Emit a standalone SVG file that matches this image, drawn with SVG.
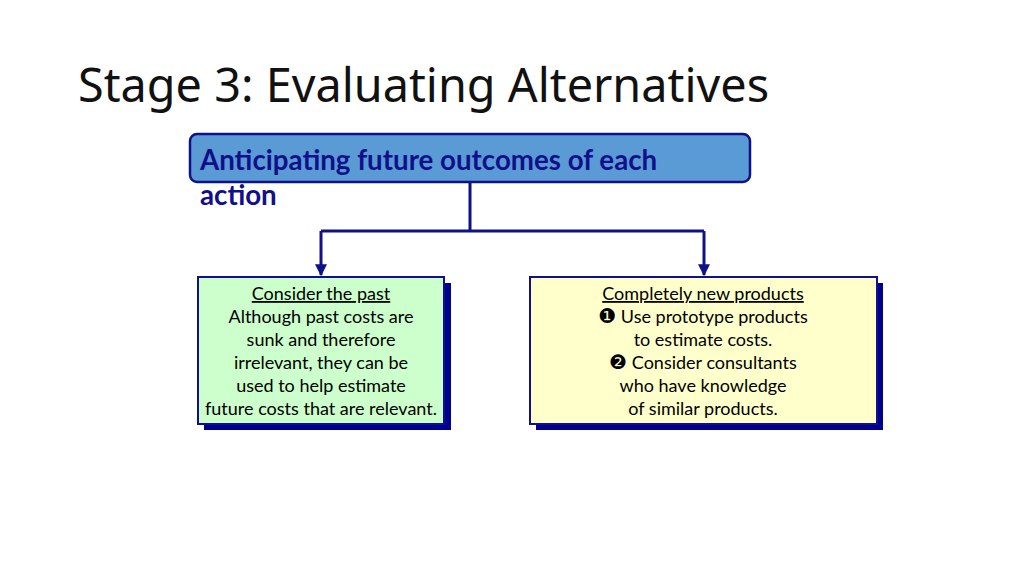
<svg xmlns="http://www.w3.org/2000/svg" width="1024" height="575" viewBox="0 0 1024 575">
<defs>
<style>
.title{font-family:"Noto Sans","Open Sans",sans-serif;font-size:46.8px;fill:#111}
.head{font-family:Lato,"Liberation Sans",sans-serif;font-size:27.7px;font-weight:bold;fill:#10108a}
.body{font-family:Lato,"Liberation Sans",sans-serif;font-size:18px;fill:#000;text-anchor:middle}
.u{text-decoration:underline}
.sh{fill:#000090}
.box{stroke:#10108a;stroke-width:2}
.conn{stroke:#10108a;stroke-width:3;fill:none}
.dg{font-family:"DejaVu Sans",sans-serif;font-size:20px}
</style>
<marker id="arr" viewBox="0 0 10 10" refX="9" refY="5" markerWidth="4" markerHeight="4" orient="auto" markerUnits="strokeWidth">
<path d="M0,0 L10,5 L0,10 z" fill="#10108a"/>
</marker>
</defs>
<rect width="1024" height="575" fill="#fff"/>
<text class="title" x="78" y="102">Stage 3: Evaluating Alternatives</text>
<g id="top">
<rect x="190" y="134" width="560" height="48" rx="7" fill="#5b9bd5" stroke="#10108a" stroke-width="2.5"/>
<text class="head" x="200" y="170">Anticipating future outcomes of each</text>
<text class="head" x="200" y="205">action</text>
</g>
<g id="connectors">
<path class="conn" d="M470,182 V231 M321,231 H704"/>
<path class="conn" d="M321,231 V275" marker-end="url(#arr)"/>
<path class="conn" d="M704,231 V275" marker-end="url(#arr)"/>
</g>
<g id="past">
<rect class="sh" x="204" y="283" width="247" height="147"/>
<rect class="box" x="198" y="277" width="246" height="147" fill="#ccffcc"/>
<text class="body u" x="321" y="300">Consider the past</text>
<text class="body" x="321" y="323">Although past costs are</text>
<text class="body" x="321" y="346">sunk and therefore</text>
<text class="body" x="321" y="369">irrelevant, they can be</text>
<text class="body" x="321" y="392">used to help estimate</text>
<text class="body" x="321" y="415">future costs that are relevant.</text>
</g>
<g id="new">
<rect class="sh" x="536" y="283" width="347" height="147"/>
<rect class="box" x="530" y="277" width="347" height="147" fill="#ffffcc"/>
<text class="body u" x="703" y="300">Completely new products</text>
<text class="body" x="703" y="323"><tspan class="dg">❶</tspan> Use prototype products</text>
<text class="body" x="703" y="346">to estimate costs.</text>
<text class="body" x="703" y="369"><tspan class="dg">❷</tspan> Consider consultants</text>
<text class="body" x="703" y="392">who have knowledge</text>
<text class="body" x="703" y="415">of similar products.</text>
</g>
</svg>
